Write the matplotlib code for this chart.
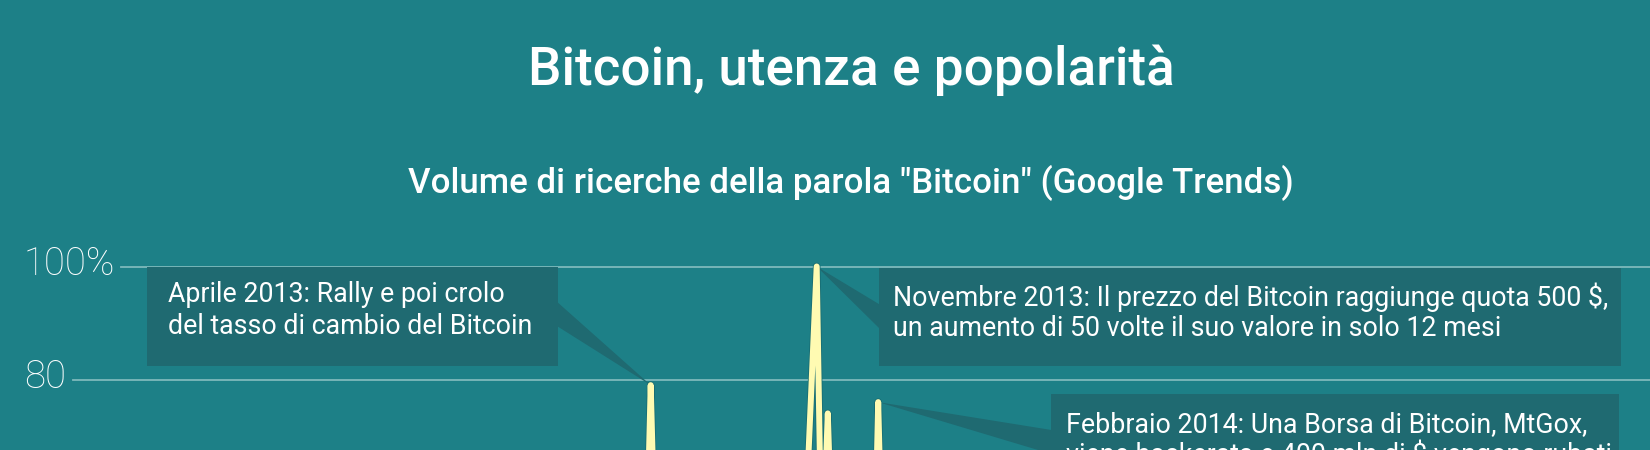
import matplotlib
matplotlib.use("Agg")
import matplotlib.pyplot as plt
import matplotlib.dates as mdates
import matplotlib.transforms as mtransforms
import matplotlib.patheffects as pe
from matplotlib.patches import Rectangle, Polygon
import pandas as pd

# ---------------- data ----------------
title = "Bitcoin, utenza e popolarità"
subtitle = 'Volume di ricerche della parola "Bitcoin" (Google Trends)'

dates = [
    "2011-01-15", "2011-03-15", "2011-05-15", "2011-06-12", "2011-06-26",
    "2011-08-15", "2011-10-15", "2011-12-15", "2012-02-15", "2012-04-15",
    "2012-06-15", "2012-08-15", "2012-10-15", "2012-12-15", "2013-01-15",
    "2013-02-15", "2013-03-06", "2013-03-20", "2013-04-03", "2013-04-10",
    "2013-04-17", "2013-04-24", "2013-05-15", "2013-06-15", "2013-07-15",
    "2013-08-15", "2013-09-15", "2013-10-09", "2013-10-23", "2013-11-06",
    "2013-11-20", "2013-11-27", "2013-12-05", "2013-12-12", "2013-12-26",
    "2014-01-08", "2014-01-22", "2014-02-04", "2014-02-11", "2014-02-18",
    "2014-03-05", "2014-03-19", "2014-04-15", "2014-05-15", "2014-06-15",
    "2014-08-15", "2014-10-15", "2014-12-15", "2015-02-15", "2015-04-15",
    "2015-06-15", "2015-08-15", "2015-10-15", "2015-12-15", "2016-02-15",
    "2016-04-15", "2016-06-15", "2016-08-15", "2016-10-15", "2016-12-15",
]
values = [
    2, 3, 8, 25, 15,
    8, 5, 4, 4, 4,
    4, 5, 5, 6, 8,
    12, 20, 30, 42, 79,
    45, 28, 20, 14, 13,
    14, 15, 20, 30, 58,
    100, 45, 74, 45, 38,
    40, 36, 35, 76, 40,
    42, 30, 26, 22, 22,
    20, 19, 18, 17, 16,
    17, 16, 17, 19, 18,
    17, 22, 20, 21, 26,
]

tick_values = [100, 80]
tick_labels = ["100%", "80"]

annot_dates = ["2013-04-10", "2013-11-20", "2014-02-11"]
annot_values = [79, 100, 76]
annot_texts = [
    ["Aprile 2013: Rally e poi crolo", "del tasso di cambio del Bitcoin"],
    ["Novembre 2013: Il prezzo del Bitcoin raggiunge quota 500 $,",
     "un aumento di 50 volte il suo valore in solo 12 mesi"],
    ["Febbraio 2014: Una Borsa di Bitcoin, MtGox,",
     "viene hackerata e 400 mln di $ vengono rubati"],
]

# ---------------- style ----------------
W, H = 1650, 450
BG = "#1D8087"
BOX = "#1F6A71"
LINE = "#FFFBB2"
GRID = "#7EB9BC"
FONT = "Roboto"

fig = plt.figure(figsize=(W / 100, H / 100), dpi=100, facecolor=BG)

# axes: 100 -> 183.5 px from bottom, 80 -> 70.5 px from bottom
px_per_unit = (183.5 - 70.5) / 20.0
y_low = 80 - 70.5 / px_per_unit
y_top = 110
ax = fig.add_axes([0, 0, 1, (183.5 + (y_top - 100) * px_per_unit) / H])
ax.set_facecolor(BG)
ax.set_ylim(y_low, y_top)

# x scale: ref date at 650.7 px, 0.741 px/day
ref = mdates.date2num(pd.Timestamp("2013-04-10"))
px_per_day = 0.741
x_left = ref - 650.7 / px_per_day
ax.set_xlim(x_left, x_left + W / px_per_day)
for s in ax.spines.values():
    s.set_visible(False)
ax.set_xticks([])
ax.set_yticks([])

x = pd.to_datetime(dates)

# gridlines (start right after the labels)
grid_starts = [121, 73]
for v, xs in zip(tick_values, grid_starts):
    ax.axhline(v, xmin=xs / W, xmax=1, color=GRID, lw=1.3, zorder=1)

# tick labels
lab_trans = mtransforms.offset_copy(
    mtransforms.blended_transform_factory(fig.transFigure, ax.transData),
    fig=fig, x=0, y=-8.5, units="dots")
for v, t in zip(tick_values, tick_labels):
    ax.text(24 / W, v, t, transform=lab_trans, ha="left", va="baseline",
            fontsize=27.5, family=FONT, fontweight="light", color="white",
            clip_on=False)

# annotation boxes (left, top, right, height) in pixels from top-left
boxes = [(147.3, 266.7, 558, 99.5), (879.3, 268.3, 1621, 97.5), (1051.4, 394, 1619, 100)]
text_left = [168.4, 893.3, 1065.7]
text_baselines = [(302, 334), (305.7, 336.2), (431.7, 463)]
tip_side = ["right", "left", "left"]

inv = fig.transFigure.inverted()
for i, (bl, bt, br, bh) in enumerate(boxes):
    rect = Rectangle((bl / W, (H - bt - bh) / H), (br - bl) / W, bh / H,
                     transform=fig.transFigure, facecolor=BOX, edgecolor="none",
                     zorder=2, clip_on=False)
    ax.add_patch(rect)
    # wedge pointer
    tip = ax.transData.transform((mdates.date2num(pd.Timestamp(annot_dates[i])),
                                  annot_values[i]))
    tipf = inv.transform(tip)
    bx = br if tip_side[i] == "right" else bl
    cy = bt + 48
    p1 = (bx / W, (H - (cy - 12)) / H)
    p2 = (bx / W, (H - (cy + 12)) / H)
    poly = Polygon([p1, p2, tuple(tipf)], closed=True, transform=fig.transFigure,
                   facecolor=BOX, edgecolor="none", zorder=2, clip_on=False)
    ax.add_patch(poly)
    for j, line in enumerate(annot_texts[i]):
        base = text_baselines[i][j]
        ax.text(text_left[i] / W, (H - base) / H, line, transform=fig.transFigure,
                ha="left", va="baseline", fontsize=19.3, family=FONT,
                color="white", zorder=4, clip_on=False)

# the series
ax.plot(x, values, color=LINE, lw=4.3, solid_joinstyle="round",
        solid_capstyle="round", zorder=3, clip_on=False,
        path_effects=[pe.Stroke(linewidth=5.5, foreground="#186E74"), pe.Normal()])

# titles
fig.text(851 / W, (H - 85) / H, title, ha="center", va="baseline",
         fontsize=38.2, family=FONT, fontweight="medium", color="white")
fig.text(850.5 / W, (H - 193.3) / H, subtitle, ha="center", va="baseline",
         fontsize=25.1, family=FONT, fontweight="medium", color="white")

fig.savefig("out.png", dpi=100, facecolor=BG)
